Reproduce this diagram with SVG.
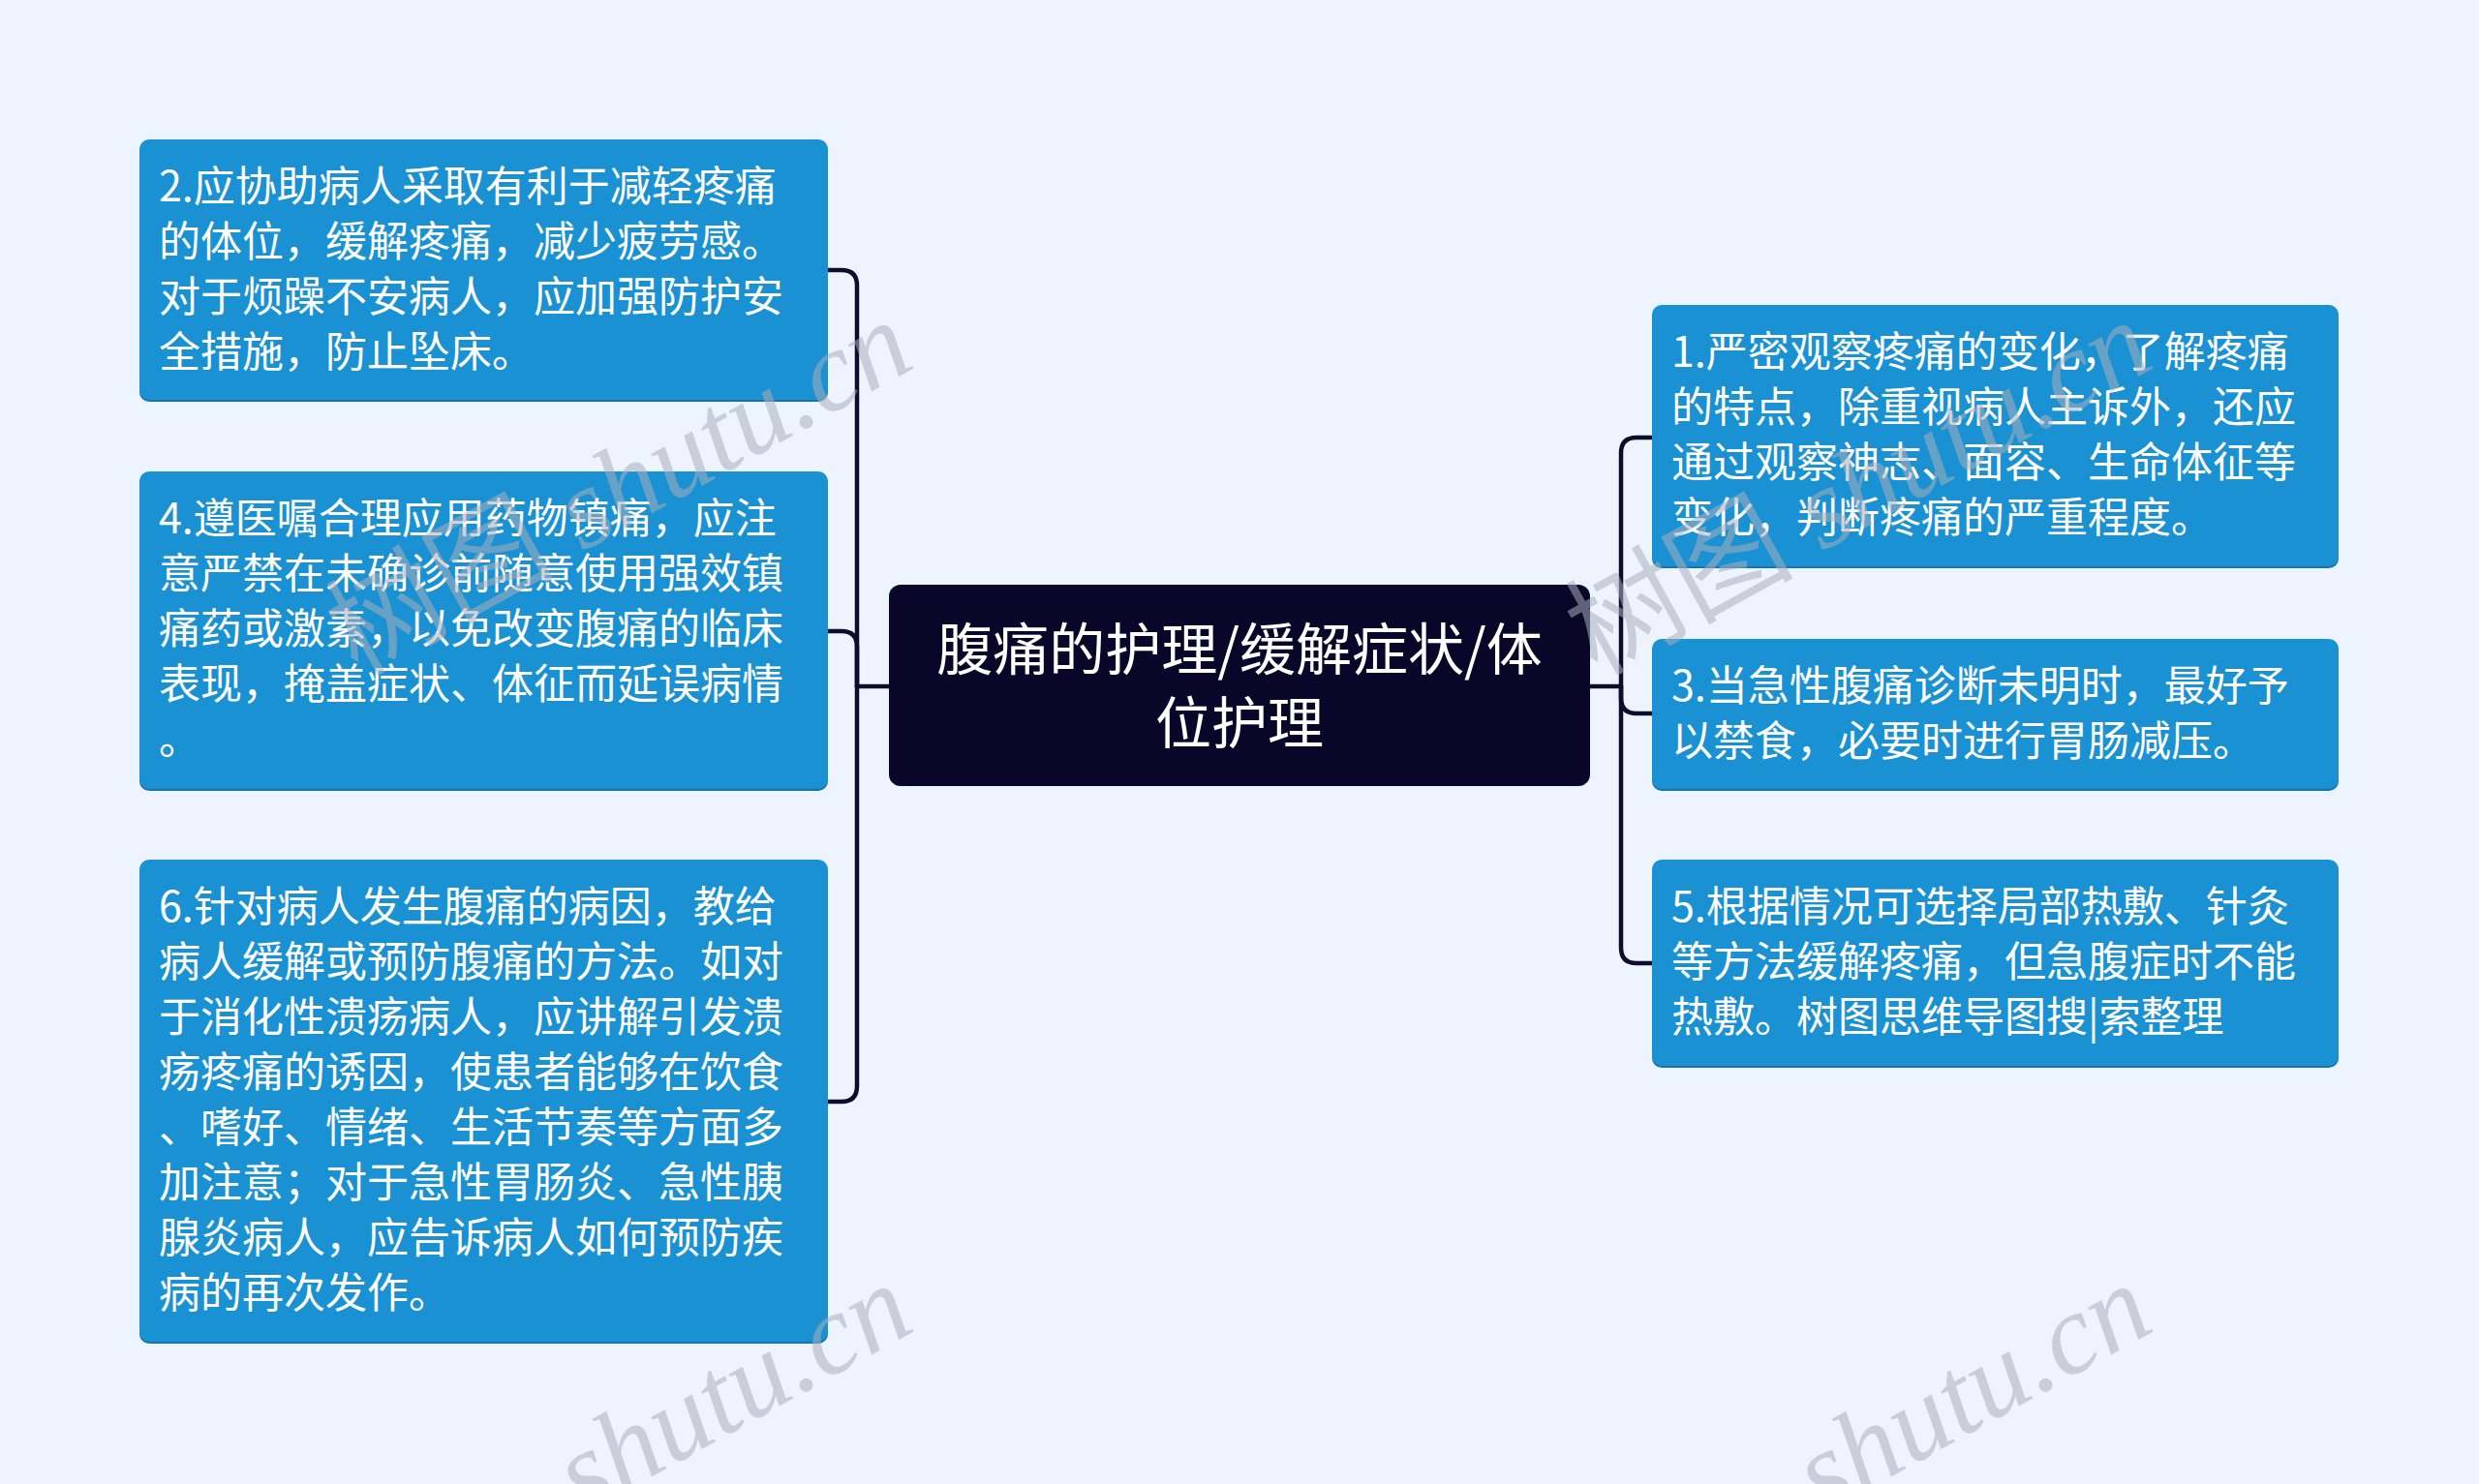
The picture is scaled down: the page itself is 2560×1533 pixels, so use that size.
<svg xmlns="http://www.w3.org/2000/svg" width="2560" height="1533" viewBox="0 0 2560 1533">
<style>
.bg{fill:#EEF4FE}
.box{fill:#1991D2}
.sh{fill:#1675AE}
.root{fill:#0A0629}
.t{font-family:"Noto Sans CJK SC","Noto Sans",sans-serif;font-size:43px;fill:#FFFFFF}
.rt{font-family:"Noto Sans CJK SC","Noto Sans",sans-serif;font-size:58px;fill:#FFFFFF;text-anchor:middle}
.c{fill:none;stroke:#0E0B2C;stroke-width:4.5;stroke-linecap:round}
.wm{font-family:"Liberation Serif","Noto Sans CJK SC",serif;font-style:italic;font-size:118px;fill:#A9AEBB;fill-opacity:0.55;text-anchor:end}
.wmc{font-family:"Noto Sans CJK SC",sans-serif;font-style:normal}
</style>
<rect class="bg" x="0" y="0" width="2560" height="1533"/>
<g id="connectors">
<path class="c" d="M918 709 H885"/>
<path class="c" d="M885 709 V295 Q885 279 869 279 H855"/>
<path class="c" d="M885 709 V668 Q885 652 869 652 H855"/>
<path class="c" d="M885 709 V1122 Q885 1138 869 1138 H855"/>
<path class="c" d="M1642 709 H1674"/>
<path class="c" d="M1674 709 V468 Q1674 452 1690 452 H1706"/>
<path class="c" d="M1674 709 V721 Q1674 737 1690 737 H1706"/>
<path class="c" d="M1674 709 V979 Q1674 995 1690 995 H1706"/>
</g>
<g id="root">
<rect class="root" x="918" y="604" width="724" height="208" rx="12"/>
<text class="rt" x="1280" y="692">腹痛的护理/缓解症状/体</text>
<text class="rt" x="1280" y="768">位护理</text>
</g>
<g id="node2">
<rect class="sh" x="144" y="146" width="711" height="269" rx="10"/>
<rect class="box" x="144" y="144" width="711" height="269" rx="10"/>
<text class="t" x="164" y="208">2.应协助病人采取有利于减轻疼痛</text>
<text class="t" x="164" y="265">的体位，缓解疼痛，减少疲劳感。</text>
<text class="t" x="164" y="322">对于烦躁不安病人，应加强防护安</text>
<text class="t" x="164" y="379">全措施，防止坠床。</text>
</g>
<g id="node4">
<rect class="sh" x="144" y="489" width="711" height="328" rx="10"/>
<rect class="box" x="144" y="487" width="711" height="328" rx="10"/>
<text class="t" x="164" y="551">4.遵医嘱合理应用药物镇痛，应注</text>
<text class="t" x="164" y="608">意严禁在未确诊前随意使用强效镇</text>
<text class="t" x="164" y="665">痛药或激素，以免改变腹痛的临床</text>
<text class="t" x="164" y="722">表现，掩盖症状、体征而延误病情</text>
<text class="t" x="164" y="779">。</text>
</g>
<g id="node6">
<rect class="sh" x="144" y="890" width="711" height="498" rx="10"/>
<rect class="box" x="144" y="888" width="711" height="498" rx="10"/>
<text class="t" x="164" y="952">6.针对病人发生腹痛的病因，教给</text>
<text class="t" x="164" y="1009">病人缓解或预防腹痛的方法。如对</text>
<text class="t" x="164" y="1066">于消化性溃疡病人，应讲解引发溃</text>
<text class="t" x="164" y="1123">疡疼痛的诱因，使患者能够在饮食</text>
<text class="t" x="164" y="1180">、嗜好、情绪、生活节奏等方面多</text>
<text class="t" x="164" y="1237">加注意；对于急性胃肠炎、急性胰</text>
<text class="t" x="164" y="1294">腺炎病人，应告诉病人如何预防疾</text>
<text class="t" x="164" y="1351">病的再次发作。</text>
</g>
<g id="node1">
<rect class="sh" x="1706" y="317" width="709" height="270" rx="10"/>
<rect class="box" x="1706" y="315" width="709" height="270" rx="10"/>
<text class="t" x="1726" y="379">1.严密观察疼痛的变化，了解疼痛</text>
<text class="t" x="1726" y="436">的特点，除重视病人主诉外，还应</text>
<text class="t" x="1726" y="493">通过观察神志、面容、生命体征等</text>
<text class="t" x="1726" y="550">变化，判断疼痛的严重程度。</text>
</g>
<g id="node3">
<rect class="sh" x="1706" y="662" width="709" height="155" rx="10"/>
<rect class="box" x="1706" y="660" width="709" height="155" rx="10"/>
<text class="t" x="1726" y="724">3.当急性腹痛诊断未明时，最好予</text>
<text class="t" x="1726" y="781">以禁食，必要时进行胃肠减压。</text>
</g>
<g id="node5">
<rect class="sh" x="1706" y="890" width="709" height="213" rx="10"/>
<rect class="box" x="1706" y="888" width="709" height="213" rx="10"/>
<text class="t" x="1726" y="952">5.根据情况可选择局部热敷、针灸</text>
<text class="t" x="1726" y="1009">等方法缓解疼痛，但急腹症时不能</text>
<text class="t" x="1726" y="1066">热敷。树图思维导图搜|索整理</text>
</g>
<g id="watermarks">
<text class="wm" transform="translate(948 378) rotate(-29)"><tspan class="wmc">树图</tspan> shutu.cn</text>
<text class="wm" transform="translate(2228 378) rotate(-29)"><tspan class="wmc">树图</tspan> shutu.cn</text>
<text class="wm" transform="translate(948 1373) rotate(-29)">shutu.cn</text>
<text class="wm" transform="translate(2228 1373) rotate(-29)">shutu.cn</text>
</g>
</svg>
